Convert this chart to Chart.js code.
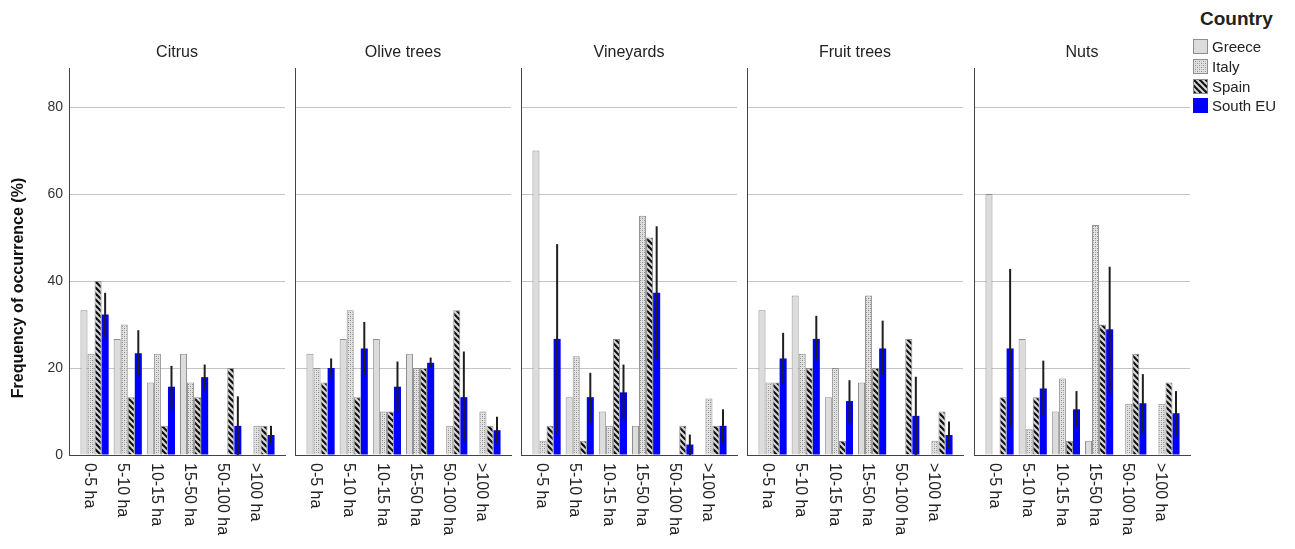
<!DOCTYPE html>
<html><head><meta charset="utf-8">
<script src="https://cdn.jsdelivr.net/npm/chart.js@4.4.1/dist/chart.umd.min.js"></script>
<style>
html,body{margin:0;padding:0;background:#fff;}
#wrap{position:relative;width:1295px;height:549px;overflow:hidden;background:#fff;font-family:'Liberation Sans',Arial,sans-serif;color:#222;}
.panel{position:absolute;top:0;}
#legTitle{position:absolute;left:1200px;top:8px;font-weight:bold;font-size:19px;}
.leg{position:absolute;left:1193px;height:16px;display:flex;align-items:center;font-size:15px;}
.leg canvas{margin-right:4px;display:block;}
</style></head><body>
<div id="wrap"></div>
<script>
// ---- data ----
const crops = ['Citrus', 'Olive trees', 'Vineyards', 'Fruit trees', 'Nuts'];
const sizeClasses = ['0-5 ha', '5-10 ha', '10-15 ha', '15-50 ha', '50-100 ha', '>100 ha'];
const countries = ['Greece', 'Italy', 'Spain', 'South EU'];
const yTitle = 'Frequency of occurrence (%)';
const yTickStep = 20;
const yMax = 89;

const greece = [
  [33.3, 26.7, 16.7, 23.3, 0, 0],
  [23.3, 26.7, 26.7, 23.3, 0, 0],
  [70.0, 13.3, 10.0, 6.7, 0, 0],
  [33.3, 36.7, 13.3, 16.7, 0, 0],
  [60.0, 26.7, 10.0, 3.3, 0, 0]
];
const italy = [
  [23.3, 30.0, 23.3, 16.7, 0, 6.7],
  [20.0, 33.3, 10.0, 20.0, 6.7, 10.0],
  [3.3, 22.7, 6.7, 55.0, 0, 13.0],
  [16.7, 23.3, 20.0, 36.7, 0, 3.3],
  [0, 5.9, 17.6, 52.9, 11.8, 11.8]
];
const spain = [
  [40.0, 13.3, 6.7, 13.3, 20.0, 6.7],
  [16.7, 13.3, 10.0, 20.0, 33.3, 6.7],
  [6.7, 3.3, 26.7, 50.0, 6.7, 6.7],
  [16.7, 20.0, 3.3, 20.0, 26.7, 10.0],
  [13.3, 13.3, 3.3, 30.0, 23.3, 16.7]
];
const southEU = [
  [32.3, 23.4, 15.7, 17.9, 6.7, 4.6],
  [20.0, 24.5, 15.7, 21.2, 13.3, 5.7],
  [26.7, 13.3, 14.4, 37.3, 2.4, 6.7],
  [22.2, 26.7, 12.4, 24.5, 9.0, 4.6],
  [24.5, 15.3, 10.5, 28.9, 11.9, 9.6]
];
const southEULow = [
  [27.2, 18.2, 10.6, 15.0, 0, 2.4],
  [17.8, 18.4, 10.0, 20.0, 3.1, 2.6],
  [4.8, 7.4, 8.2, 21.8, 0, 2.8],
  [16.6, 21.7, 7.4, 18.4, 0, 1.5],
  [6.4, 9.2, 6.4, 14.3, 5.0, 4.4]
];
const southEUHigh = [
  [37.3, 28.7, 20.5, 20.8, 13.5, 6.7],
  [22.2, 30.6, 21.5, 22.4, 23.8, 8.8],
  [48.5, 18.9, 20.8, 52.6, 4.7, 10.5],
  [28.1, 32.0, 17.2, 30.9, 18.0, 7.7],
  [42.8, 21.7, 14.7, 43.3, 18.6, 14.7]
];

// ---- styling helpers ----
const FONT = "'Liberation Sans', Arial, sans-serif";
Chart.defaults.font.family = FONT;
Chart.defaults.color = '#222';

function makeDots() {
  const c = document.createElement('canvas'); c.width = 4; c.height = 4;
  const g = c.getContext('2d');
  g.fillStyle = '#e2e2e2'; g.fillRect(0, 0, 4, 4);
  g.fillStyle = '#8a8a8a'; g.fillRect(0, 0, 1, 1); g.fillRect(2, 2, 1, 1);
  g.fillStyle = '#b4b4b4'; g.fillRect(2, 0, 1, 1); g.fillRect(0, 2, 1, 1);
  return g.createPattern(c, 'repeat');
}
function makeStripes() {
  const s = 6;
  const c = document.createElement('canvas'); c.width = s; c.height = s;
  const g = c.getContext('2d');
  g.fillStyle = '#dadada'; g.fillRect(0, 0, s, s);
  g.strokeStyle = '#111'; g.lineWidth = 2.2;
  for (const o of [-s, 0, s]) { g.beginPath(); g.moveTo(o - 1, -1); g.lineTo(o + s + 1, s + 1); g.stroke(); }
  return g.createPattern(c, 'repeat');
}
const fills = ['#dcdcdc', makeDots(), makeStripes(), '#0000ff'];
const borders = ['#8e8e8e', '#8e8e8e', '#8a8a8a', '#0000ff'];
const seriesList = [greece, italy, spain, southEU];

// ---- plugins ----
const errorBars = {
  id: 'errorBars',
  afterDatasetsDraw(chart) {
    const p = chart.options.plugins.errorBars;
    const meta = chart.getDatasetMeta(3);
    const ys = chart.scales.y;
    const ctx = chart.ctx;
    ctx.save();
    ctx.strokeStyle = '#1e1e1e'; ctx.lineWidth = 2;
    meta.data.forEach((bar, i) => {
      ctx.beginPath();
      ctx.moveTo(bar.x, ys.getPixelForValue(p.low[i]));
      ctx.lineTo(bar.x, ys.getPixelForValue(p.high[i]));
      ctx.stroke();
    });
    ctx.restore();
  }
};
const panelText = {
  id: 'panelText',
  afterDraw(chart) {
    const p = chart.options.plugins.panelText;
    const ctx = chart.ctx, a = chart.chartArea, xs = chart.scales.x;
    ctx.save();
    ctx.fillStyle = '#222';
    ctx.font = '16px ' + FONT;
    ctx.textAlign = 'center'; ctx.textBaseline = 'middle';
    ctx.fillText(p.title, (a.left + a.right) / 2, a.top - 15);
    sizeClasses.forEach((lab, i) => {
      ctx.save();
      ctx.translate(xs.getPixelForValue(i) - 5, a.bottom + 8);
      ctx.rotate(Math.PI / 2);
      ctx.textAlign = 'left'; ctx.textBaseline = 'middle';
      ctx.fillText(lab, 0, 0);
      ctx.restore();
    });
    if (p.axisTitle) {
      ctx.save();
      ctx.translate(19, 288);
      ctx.rotate(-Math.PI / 2);
      ctx.font = 'bold 16px ' + FONT;
      ctx.fillStyle = '#111';
      ctx.textAlign = 'center'; ctx.textBaseline = 'middle';
      ctx.fillText(p.axisTitle, 0, 0);
      ctx.restore();
    }
    ctx.restore();
  }
};

// ---- build panels ----
const wrap = document.getElementById('wrap');
const panelLeft = [69, 295, 521, 747, 974];
const panelWidth = 216;
crops.forEach((crop, k) => {
  const yW = k === 0 ? 69 : 5;
  const div = document.createElement('div');
  div.className = 'panel';
  div.style.left = (panelLeft[k] - yW) + 'px';
  const cv = document.createElement('canvas');
  cv.width = yW + panelWidth + 5; cv.height = 549;
  div.appendChild(cv); wrap.appendChild(div);
  const datasets = countries.map((name, s) => ({
    label: name,
    data: seriesList[s][k].map((v, i) => ({ x: i, y: v })),
    backgroundColor: fills[s],
    borderColor: borders[s],
    borderWidth: s === 3 ? 0 : 1,
    borderSkipped: 'bottom',
    barPercentage: 1,
    categoryPercentage: 0.85
  }));
  new Chart(cv, {
    type: 'bar',
    data: { datasets },
    plugins: [errorBars, panelText],
    options: {
      responsive: false, animation: false, devicePixelRatio: 1,
      layout: { padding: { top: 68, right: 5, left: 0, bottom: 0 } },
      plugins: {
        legend: { display: false }, tooltip: { enabled: false },
        errorBars: { low: southEULow[k], high: southEUHigh[k] },
        panelText: { title: crop, axisTitle: k === 0 ? yTitle : null }
      },
      scales: {
        x: {
          type: 'linear', offset: false, min: -0.77, max: 5.74,
          ticks: { display: false },
          grid: { display: false },
          border: { display: true, color: '#444', width: 1 },
          afterFit: s => { s.height = 94; }
        },
        y: {
          min: 0, max: yMax,
          ticks: { display: k === 0, stepSize: yTickStep, includeBounds: false, padding: 6, color: '#333', font: { size: 14 } },
          grid: { color: '#c4c4c4', lineWidth: 1, drawTicks: false },
          border: { display: true, color: '#444', width: 1 },
          afterFit: s => { s.width = yW; }
        }
      }
    }
  });
});

// ---- legend ----
const lt = document.createElement('div'); lt.id = 'legTitle'; lt.textContent = 'Country'; wrap.appendChild(lt);
const legTops = [38, 58, 78, 97];
countries.forEach((name, s) => {
  const row = document.createElement('div'); row.className = 'leg'; row.style.top = legTops[s] + 'px';
  const sw = document.createElement('canvas'); sw.width = 15; sw.height = 15;
  const g = sw.getContext('2d');
  g.fillStyle = fills[s]; g.fillRect(0, 0, 15, 15);
  if (s !== 3) { g.strokeStyle = borders[s]; g.lineWidth = 1; g.strokeRect(0.5, 0.5, 14, 14); }
  row.appendChild(sw);
  const t = document.createElement('span'); t.textContent = name; row.appendChild(t);
  wrap.appendChild(row);
});
</script>
</body></html>
